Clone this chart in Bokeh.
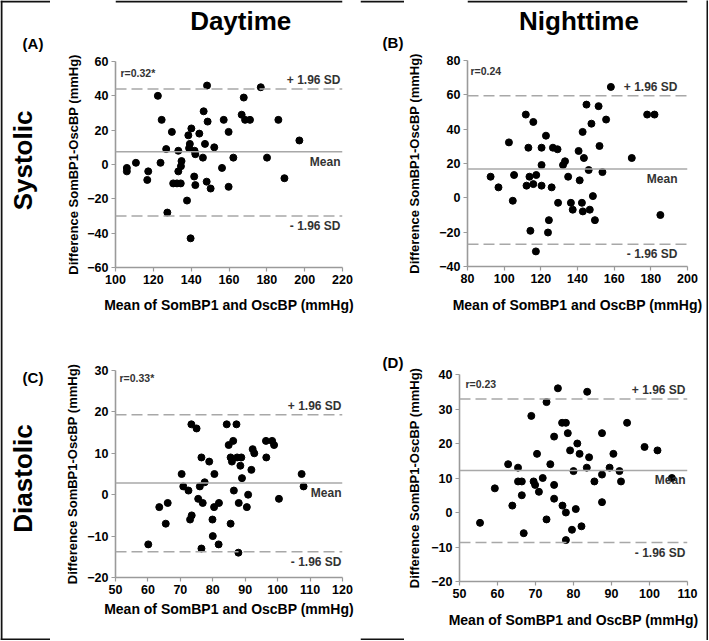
import math
from bokeh.plotting import figure
from bokeh.models import Range1d, FixedTicker, Span, Label, BoxAnnotation
from bokeh.layouts import column, row
from bokeh.embed import file_html
from bokeh.resources import INLINE

FONT = "Liberation Sans"

col_titles = ["Daytime", "Nighttime"]
row_titles = ["Systolic", "Diastolic"]
panel_tags = ["(A)", "(B)", "(C)", "(D)"]
r_labels = ["r=0.32*", "r=0.24", "r=0.33*", "r=0.23"]
x_title = "Mean of SomBP1 and OscBP (mmHg)"
y_title = "Difference SomBP1-OscBP (mmHg)"
limit_labels = ["+ 1.96 SD", "Mean", "- 1.96 SD"]

# (A) Systolic, daytime
a_x = [106, 106, 110.8, 117.3, 116.8, 122.4, 124.4, 123.8, 126.8, 127.4,
       129.8, 130.5, 132.5, 134.5, 133.2, 133.2, 134.9, 134.6, 138.5, 139.3,
       138.9, 140.1, 137.8, 139.7, 141.8, 142.2, 141.6, 142.2, 144.3, 146.2,
       146.6, 147.3, 148.4, 148.7, 148.2, 150.3, 152.2, 156.3, 157.2, 159.8,
       159.8, 162.3, 166.7, 167.8, 168.5, 171.1, 176.8, 180.1, 186.1, 189.3,
       197.2]
a_y = [-2, -4, 1, -4, -9, 40, 26, 1, 9, -28,
       19, -11, -11, -11, 8, -4, 2, -1, 17, 12,
       9.5, 21, -21, -43, 8, 6, -7, -12, 18, 4,
       31, 12, 46, 25, -10, -14, 10, -2, 26, 19,
       -13, 4, 29, 39, 26, 26, 45, 4, 26, -8,
       14]
a_xticks = [100, 120, 140, 160, 180, 200, 220]
a_yticks = [-60, -40, -20, 0, 20, 40, 60]
a_limits = [44, 7.5, -30]

# (B) Systolic, nighttime
b_x = [92.6, 96.9, 102.6, 104.7, 105.4, 111.8, 113.2, 112.2, 113.8, 114.3,
       115.9, 115.9, 117.5, 117.3, 120.4, 120.4, 120.4, 122.8, 124.4, 123.9,
       125.9, 126.6, 129.1, 129.4, 132.1, 133.2, 134.9, 136.4, 137.4, 140.6,
       141.2, 142.4, 142.8, 143.5, 142.9, 144.9, 146.1, 146.7, 147.6, 148.4,
       149.5, 151.5, 152.0, 153.6, 155.6, 158.2, 169.6, 178.0, 182.0, 185.2]
b_y = [12.3, 6.1, 32.3, -1.7, 13.3, 48.5, 29.2, 7.1, 12.3, -19.2,
       44.2, 8.0, 13.3, -31.2, 29.2, 19.1, 7.1, 36.2, -13.0, -20.2,
       6.1, 29.2, 28.3, -2.9, 19.1, 21.3, 12.3, -2.9, -6.9, 27.3,
       10.2, -2.9, 38.4, 23.2, -7.9, 54.3, 16.2, -6.9, 43.2, 1.0,
       -13.0, 53.4, 30.2, 15.0, 45.6, 64.6, 23.2, 48.5, 48.5, -10.0]
b_xticks = [80, 100, 120, 140, 160, 180, 200]
b_yticks = [-40, -20, 0, 20, 40, 60, 80]
b_limits = [59.5, 16.8, -27]

# (C) Diastolic, daytime
c_x = [60.1, 63.5, 66.1, 65.5, 70.4, 70.9, 72.5, 73.0, 73.5, 73.4,
       75.0, 75.5, 76.0, 76.5, 76.5, 76.9, 77.5, 78.9, 79.9, 80.0,
       80.5, 80.4, 81.8, 81.9, 84.3, 84.9, 85.5, 85.5, 85.9, 86.3,
       86.5, 87.3, 87.5, 88.0, 87.9, 88.5, 88.8, 89.0, 90.5, 90.9,
       91.9, 92.3, 92.8, 96.4, 96.5, 98.3, 98.9, 100.4, 107.4, 108.0]
c_y = [-12, -3, -2, -7, 5, 2, 1, -6, -5, 17,
       16, -1, 2, 9, -13, -2, 3, 8, -6, -10,
       5, -3, -12, -2, 17, 12, 9, -7, 8, 13,
       1, 17, 9, -2, -14, 7, 9, 4, -3, 0,
       6, 11, 10, 13, 9, 13, 12, -1, 5, 2]
c_xticks = [50, 60, 70, 80, 90, 100, 110, 120]
c_yticks = [-20, -10, 0, 10, 20, 30]
c_limits = [19.3, 2.8, -13.8]

# (D) Diastolic, nighttime
d_x = [55.4, 59.3, 62.8, 63.9, 65.4, 65.4, 66.4, 66.4, 66.9, 68.9,
       69.5, 69.9, 70.4, 70.9, 71.9, 72.9, 72.9, 73.9, 74.9, 74.9,
       74.9, 75.9, 77.0, 78.0, 77.1, 78.0, 78.0, 78.5, 79.1, 79.6,
       80.0, 80.6, 81.0, 81.6, 82.1, 83.5, 83.6, 84.1, 85.5, 87.5,
       87.5, 87.5, 89.5, 90.5, 92.1, 92.5, 94.1, 98.7, 102.1, 105.9]
d_y = [-3, 7, 14, 2, 13, 9, 9, 5, -6, 28,
       9, 8, 17, 6, 10, 32, -2, 14, 22, 8,
       4, 36, 26, 26, 2, 0, -8, 23, 18, -5,
       12, 1, 20, 17, -4, 13, 35, 16, 9, 23,
       11, 3, 13, 17, 12, 9, 26, 19, 18, 10]
d_xticks = [50, 60, 70, 80, 90, 100, 110]
d_yticks = [-20, -10, 0, 10, 20, 30, 40]
d_limits = [32.9, 12.2, -8.7]

AXIS_GRAY = "#9a9a9a"
LINE_GRAY = "#a8a8a8"
TEXT_DARK = "#333333"
EDGE = "#111111"


def txt(p, text, x, y, xo=0, yo=0, align="left", base="middle", size="12px",
        color=TEXT_DARK, angle=0.0):
    p.add_layout(Label(x=x, y=y, x_offset=xo, y_offset=yo, text=text,
                       text_align=align, text_baseline=base,
                       text_font=FONT, text_font_size=size,
                       text_font_style="bold", text_color=color, angle=angle))


def strip(w, h, bg="white"):
    s = figure(width=w, height=h, output_backend="svg", toolbar_location=None,
               x_range=Range1d(0, w), y_range=Range1d(h, 0),
               x_axis_location=None, y_axis_location=None, min_border=0)
    s.xgrid.visible = False
    s.ygrid.visible = False
    s.outline_line_color = None
    s.background_fill_color = bg
    s.border_fill_color = bg
    return s


def edge(s, left=None, right=None, top=None, bottom=None):
    s.add_layout(BoxAnnotation(left=left, right=right, top=top, bottom=bottom,
                               fill_color=EDGE, fill_alpha=1.0,
                               line_color=None))


def panel(xs, ys, xt, yt, limits, w, h, bl, br, bt, bb, ylab_so, xlab_so,
          rlab, r_off, lab_right):
    p = figure(width=w, height=h, output_backend="svg", toolbar_location=None,
               x_range=Range1d(xt[0], xt[-1]), y_range=Range1d(yt[0], yt[-1]),
               min_border_left=bl, min_border_right=br,
               min_border_top=bt, min_border_bottom=bb)
    p.xgrid.visible = False
    p.ygrid.visible = False
    p.outline_line_color = None
    p.background_fill_color = "white"
    p.border_fill_color = "white"
    p.xaxis.ticker = FixedTicker(ticks=xt)
    p.yaxis.ticker = FixedTicker(ticks=yt)
    p.xaxis.axis_label = x_title
    p.yaxis.axis_label = y_title
    for ax in (p.xaxis[0], p.yaxis[0]):
        ax.axis_line_color = AXIS_GRAY
        ax.axis_line_width = 1.6
        ax.major_tick_line_color = AXIS_GRAY
        ax.major_tick_line_width = 1.2
        ax.major_tick_out = 4
        ax.major_tick_in = 0
        ax.minor_tick_out = 0
        ax.minor_tick_in = 0
        ax.major_label_standoff = 3
        ax.major_label_text_font = FONT
        ax.major_label_text_font_style = "bold"
        ax.major_label_text_font_size = "12.5px"
        ax.major_label_text_color = "black"
        ax.axis_label_text_font = FONT
        ax.axis_label_text_font_style = "bold"
        ax.axis_label_text_color = "black"
    p.yaxis[0].axis_label_text_font_size = "13px"
    p.xaxis[0].axis_label_text_font_size = "14px"
    p.yaxis[0].axis_label_standoff = ylab_so
    p.xaxis[0].axis_label_standoff = xlab_so

    up, mean, low = limits
    p.add_layout(Span(location=up, dimension="width", line_color=LINE_GRAY,
                      line_width=1.5, line_dash="11 5"))
    p.add_layout(Span(location=low, dimension="width", line_color=LINE_GRAY,
                      line_width=1.5, line_dash="11 5"))
    p.add_layout(Span(location=mean, dimension="width", line_color=LINE_GRAY,
                      line_width=1.5))
    p.scatter(xs, ys, size=7, color="black")

    x0, x1 = xt[0], xt[-1]
    txt(p, rlab, x0, yt[-1], xo=r_off[0], yo=-r_off[1], size="10.5px")
    txt(p, limit_labels[0], x1, up, xo=-lab_right, yo=2, align="right",
        base="bottom")
    txt(p, limit_labels[1], x1, mean, xo=-lab_right, yo=-3, align="right",
        base="top")
    txt(p, limit_labels[2], x1, low, xo=-lab_right, yo=-3, align="right",
        base="top")
    return p


# panels (canvas sizes and borders place the frames)
pA = panel(a_x, a_y, a_xticks, a_yticks, a_limits, 310, 285, 65, 18, 26, 53,
           3, 10, r_labels[0], (5, 11), 2)
pC = panel(c_x, c_y, c_xticks, c_yticks, c_limits, 310, 318, 65, 12, 50, 61,
           4, 4, r_labels[2], (4, 7), 1)
pB = panel(b_x, b_y, b_xticks, b_yticks, b_limits, 302, 285, 58, 19, 25, 54,
           14, 11, r_labels[1], (3, 10), 10)
pD = panel(d_x, d_y, d_xticks, d_yticks, d_limits, 302, 318, 51, 19, 54, 57,
           6, 11, r_labels[3], (6, 9), 2)

# text strips
left = strip(50, 640)
edge(left, left=0, right=2)
edge(left, top=0, bottom=2)
edge(left, top=638, bottom=640)
txt(left, row_titles[0], 22, 160, align="center", size="26px", color="black",
    angle=math.pi / 2)
txt(left, row_titles[1], 22, 478, align="center", size="26px", color="black",
    angle=math.pi / 2)
txt(left, panel_tags[0], 32.5, 43, align="center", size="15px", color="black")
txt(left, panel_tags[2], 32.5, 377, align="center", size="15px", color="black")

mid = strip(44, 640)
edge(mid, top=0, bottom=2)
edge(mid, top=638, bottom=640)
txt(mid, panel_tags[1], 32.5, 42, align="center", size="15px", color="black")
txt(mid, panel_tags[3], 32.5, 362, align="center", size="15px", color="black")

topA = strip(310, 35)
edge(topA, top=0, bottom=2)
txt(topA, col_titles[0], 171, 20, align="center", size="26px", color="black")
topB = strip(302, 35)
edge(topB, top=0, bottom=2)
txt(topB, col_titles[1], 153, 20, align="center", size="26px", color="black")

botA = strip(310, 2, bg=EDGE)
botB = strip(302, 2, bg=EDGE)
rightEdge = strip(2, 640, bg=EDGE)

# B and D are kept in separate boxes so that their frames are not aligned
colB = column(topB, pB)
colD = column(pD, botB)
layout = row(left, column(topA, pA, pC, botA), mid, column(colB, colD),
             rightEdge)
open("out.html", "w").write(file_html(layout, INLINE))
